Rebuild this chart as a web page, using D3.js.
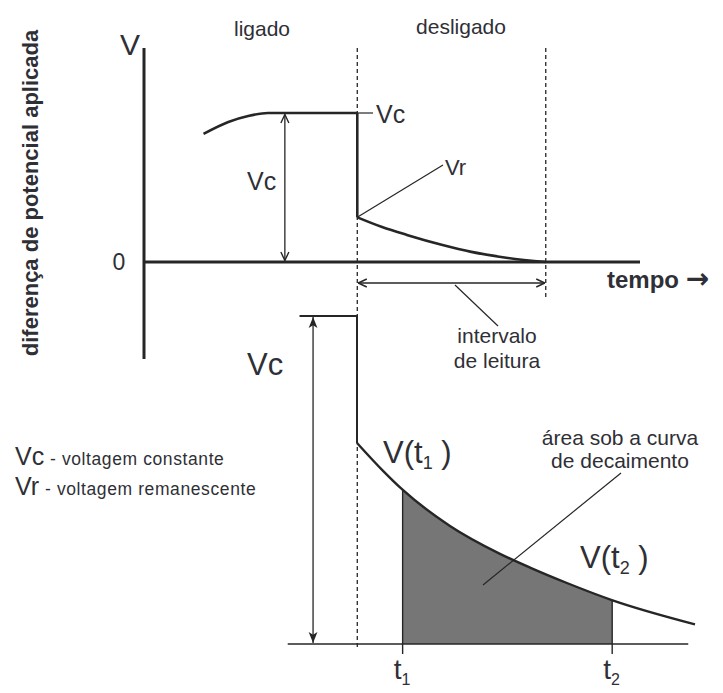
<!DOCTYPE html>
<html>
<head>
<meta charset="utf-8">
<script src="https://cdn.jsdelivr.net/npm/d3@7"></script>
<style>
  html, body { margin: 0; padding: 0; background: #fff; }
  svg { display: block; }
  text { font-family: "Liberation Sans", Arial, Helvetica, sans-serif; fill: #2f2f36; }
</style>
</head>
<body>
<script>
// ---- upper panel: applied voltage while the source is on, then off ----
const chargeTime = [12, 17, 21, 25, 43];          // ligado
const chargeVolt = [0.86, 0.94, 0.98, 1, 1];      // fraction of Vc
const switchOff = 43;
const readEnd = 81;
const residualTime = [43, 48, 53, 60, 66, 73, 81]; // desligado
const residualVolt = [0.30, 0.235, 0.182, 0.116, 0.068, 0.029, 0];

// ---- lower panel: decay curve after switch-off ----
const decayTime = [0, 0.77, 1.33, 2.75, 4.23, 5.12, 6.21, 7.54, 10];
const decayVolt = [0.613, 0.528, 0.472, 0.36, 0.275, 0.233, 0.186, 0.134, 0.06];
const constStart = -1.7;
const t1 = 1.35, t2 = 7.55;

const W = 723, H = 693;
const svg = d3.select("body").append("svg").attr("width", W).attr("height", H);
const ink = "#262626";

// scales
const xTop = d3.scaleLinear().domain([0, 100]).range([144, 640]);
const yTop = d3.scaleLinear().domain([0, 1]).range([262, 113]);
const xBot = d3.scaleLinear().domain([0, 10]).range([357, 695]);
const yBot = d3.scaleLinear().domain([0, 1]).range([644, 316]);

// markers
const defs = svg.append("defs");
defs.append("marker").attr("id", "chev")
  .attr("viewBox", "0 0 10 10").attr("refX", 9.5).attr("refY", 5)
  .attr("markerWidth", 10).attr("markerHeight", 10).attr("markerUnits", "userSpaceOnUse")
  .attr("orient", "auto-start-reverse")
  .append("path").attr("d", "M1,1 L9.5,5 L1,9").attr("fill", "none")
  .attr("stroke", ink).attr("stroke-width", 1.4);
defs.append("marker").attr("id", "tri")
  .attr("viewBox", "0 0 10 10").attr("refX", 10).attr("refY", 5)
  .attr("markerWidth", 11).attr("markerHeight", 11).attr("markerUnits", "userSpaceOnUse")
  .attr("orient", "auto-start-reverse")
  .append("path").attr("d", "M0,1 L10,5 L0,9 L2.5,5 Z").attr("fill", ink);

const mono = (xs, ys) => d3.line().curve(d3.curveMonotoneX).x(d => xs(d[0])).y(d => ys(d[1]));
const lin = (xs, ys) => d3.line().x(d => xs(d[0])).y(d => ys(d[1]));

// ===== upper panel =====
// dashed guides at switch-off and end of reading interval
svg.append("line")
  .attr("x1", xTop(switchOff)).attr("x2", xTop(switchOff))
  .attr("y1", 48).attr("y2", 650)
  .attr("stroke", ink).attr("stroke-width", 1.3).attr("stroke-dasharray", "4,3");
svg.append("line")
  .attr("x1", xTop(readEnd)).attr("x2", xTop(readEnd))
  .attr("y1", 48).attr("y2", 299)
  .attr("stroke", ink).attr("stroke-width", 1.3).attr("stroke-dasharray", "4,3");

// axes
svg.append("line").attr("x1", xTop(0)).attr("x2", xTop(0))
  .attr("y1", 48).attr("y2", 359).attr("stroke", ink).attr("stroke-width", 3);
svg.append("line").attr("x1", xTop(0)).attr("x2", xTop(100))
  .attr("y1", yTop(0)).attr("y2", yTop(0)).attr("stroke", ink).attr("stroke-width", 3);

// charging curve, drop, residual decay
svg.append("path").datum(d3.zip(chargeTime, chargeVolt))
  .attr("d", mono(xTop, yTop)).attr("fill", "none").attr("stroke", ink).attr("stroke-width", 2.6);
svg.append("path").datum([[switchOff, 1], [switchOff, residualVolt[0]]])
  .attr("d", lin(xTop, yTop)).attr("fill", "none").attr("stroke", ink).attr("stroke-width", 2.6);
svg.append("path").datum(d3.zip(residualTime, residualVolt))
  .attr("d", mono(xTop, yTop)).attr("fill", "none").attr("stroke", ink).attr("stroke-width", 2.6);

// Vc arrow (0 -> Vc)
svg.append("line").attr("x1", xTop(28.4)).attr("x2", xTop(28.4))
  .attr("y1", yTop(0) - 1.5).attr("y2", yTop(1) + 1.5)
  .attr("stroke", ink).attr("stroke-width", 1.3)
  .attr("marker-start", "url(#chev)").attr("marker-end", "url(#chev)");
// tick to the Vc label
svg.append("line").attr("x1", xTop(switchOff)).attr("x2", 373)
  .attr("y1", yTop(1)).attr("y2", yTop(1)).attr("stroke", ink).attr("stroke-width", 1.2);
// Vr leader
svg.append("line").attr("x1", xTop(switchOff)).attr("x2", 443)
  .attr("y1", yTop(residualVolt[0])).attr("y2", 165).attr("stroke", ink).attr("stroke-width", 1.2);

// reading interval arrow
svg.append("line").attr("x1", xTop(switchOff) + 1).attr("x2", xTop(readEnd) - 1)
  .attr("y1", 283).attr("y2", 283).attr("stroke", ink).attr("stroke-width", 1.3)
  .attr("marker-start", "url(#chev)").attr("marker-end", "url(#chev)");
svg.append("line").attr("x1", 455).attr("x2", 498)
  .attr("y1", 285).attr("y2", 326).attr("stroke", ink).attr("stroke-width", 1.2);

// labels, upper panel
svg.append("text").attr("x", 130).attr("y", 55).attr("text-anchor", "middle")
  .style("font-size", "30px").text("V");
svg.append("text").attr("x", 119).attr("y", 270).attr("text-anchor", "middle")
  .style("font-size", "23px").text("0");
svg.append("text").attr("x", 262).attr("y", 36).attr("text-anchor", "middle")
  .style("font-size", "21px").text("ligado");
svg.append("text").attr("x", 461).attr("y", 34).attr("text-anchor", "middle")
  .style("font-size", "21px").text("desligado");
svg.append("text").attr("x", 376).attr("y", 123).style("font-size", "25px").text("Vc");
svg.append("text").attr("x", 247).attr("y", 190).style("font-size", "25px").text("Vc");
svg.append("text").attr("x", 445).attr("y", 175).style("font-size", "22px").text("Vr");
const tempo = svg.append("text").attr("x", 607).attr("y", 288)
  .style("font-size", "24px").style("font-weight", "bold");
tempo.append("tspan").text("tempo ");
tempo.append("tspan").style("font-family", "'DejaVu Sans', sans-serif")
  .style("font-size", "28px").text("\u2192");
svg.append("text").attr("x", 497).attr("y", 343).attr("text-anchor", "middle")
  .style("font-size", "21px").text("intervalo");
svg.append("text").attr("x", 497).attr("y", 368).attr("text-anchor", "middle")
  .style("font-size", "21px").text("de leitura");
svg.append("text").attr("transform", "translate(38,193) rotate(-90)")
  .attr("text-anchor", "middle").style("font-size", "22px").style("font-weight", "bold")
  .text("diferença de potencial aplicada");

// ===== lower panel =====
const decayPts = d3.zip(decayTime, decayVolt);
defs.append("clipPath").attr("id", "win")
  .append("rect").attr("x", xBot(t1)).attr("y", 0)
  .attr("width", xBot(t2) - xBot(t1)).attr("height", H);

// shaded area between t1 and t2
svg.append("path").datum(decayPts)
  .attr("clip-path", "url(#win)")
  .attr("d", d3.area().curve(d3.curveMonotoneX)
    .x(d => xBot(d[0])).y0(yBot(0)).y1(d => yBot(d[1])))
  .attr("fill", "#767676");

// baseline
svg.append("line").attr("x1", xBot(-2.05)).attr("x2", xBot(9.8))
  .attr("y1", yBot(0)).attr("y2", yBot(0)).attr("stroke", ink).attr("stroke-width", 1.6);

// t1 / t2 edges with ticks
const interp = d3.scaleLinear().domain(decayTime).range(decayVolt);
[t1, t2].forEach(t => {
  svg.append("line").attr("x1", xBot(t)).attr("x2", xBot(t))
    .attr("y1", yBot(interp(t))).attr("y2", yBot(0) + 10)
    .attr("stroke", ink).attr("stroke-width", 1.4);
});

// constant voltage, drop and decay
svg.append("path").datum([[constStart, 1], [0, 1], [0, decayVolt[0]]])
  .attr("d", lin(xBot, yBot)).attr("fill", "none").attr("stroke", ink).attr("stroke-width", 2);
svg.append("path").datum(decayPts)
  .attr("d", mono(xBot, yBot)).attr("fill", "none").attr("stroke", ink).attr("stroke-width", 2.4);

// Vc arrow
svg.append("line").attr("x1", xBot(-1.3)).attr("x2", xBot(-1.3))
  .attr("y1", yBot(0) - 1).attr("y2", yBot(1) + 1)
  .attr("stroke", ink).attr("stroke-width", 1.3)
  .attr("marker-start", "url(#tri)").attr("marker-end", "url(#tri)");

// area leader
svg.append("line").attr("x1", 483).attr("x2", 621)
  .attr("y1", 585).attr("y2", 473).attr("stroke", ink).attr("stroke-width", 1.2);

// labels, lower panel
svg.append("text").attr("x", 247).attr("y", 375).style("font-size", "31px").text("Vc");

function vLabel(x, y, sub) {
  const t = svg.append("text").attr("x", x).attr("y", y).style("font-size", "31px");
  t.append("tspan").text("V(t");
  t.append("tspan").attr("dy", 6).style("font-size", "18px").text(sub);
  t.append("tspan").attr("dy", -6).text(" )");
}
vLabel(383, 463, "1");
vLabel(580, 568, "2");

function tLabel(x, sub) {
  const t = svg.append("text").attr("x", x - 9).attr("y", 679).style("font-size", "28px");
  t.append("tspan").text("t");
  t.append("tspan").attr("dy", 6).style("font-size", "16px").text(sub);
}
tLabel(xBot(t1), "1");
tLabel(xBot(t2), "2");

svg.append("text").attr("x", 620).attr("y", 445).attr("text-anchor", "middle")
  .style("font-size", "21px").text("área sob a curva");
svg.append("text").attr("x", 620).attr("y", 468).attr("text-anchor", "middle")
  .style("font-size", "21px").text("de decaimento");

// legend
const legend = [
  { sym: "Vc", desc: "- voltagem constante", y: 465, dx: 50 },
  { sym: "Vr", desc: "- voltagem remanescente", y: 495, dx: 45 }
];
legend.forEach(d => {
  svg.append("text").attr("x", 15).attr("y", d.y).style("font-size", "25px").text(d.sym);
  svg.append("text").attr("x", d.dx).attr("y", d.y).style("font-size", "17.5px")
    .style("letter-spacing", "0.6px").text(d.desc);
});
</script>
</body>
</html>
